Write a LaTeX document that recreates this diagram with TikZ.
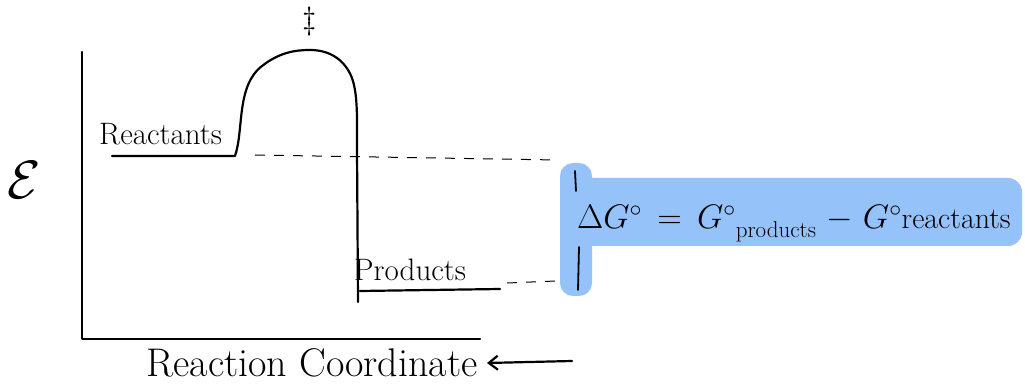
\RequirePackage{fix-cm}
\documentclass[tikz,border=0pt]{standalone}
\usepackage{amsmath}
\usetikzlibrary{positioning, arrows.meta}
\definecolor{hlblue}{RGB}{150,194,250}
\definecolor{inkline}{RGB}{0,0,0}

\begin{document}
\begin{tikzpicture}[
    x=1pt, y=-1pt,
    ink/.style={draw=inkline, line width=2.2pt, line cap=round, line join=round},
    guide/.style={draw=inkline, line width=1pt, dash pattern=on 10pt off 9pt},
    tag/.style={font=\fontsize{31}{33}\selectfont, inner sep=0pt, anchor=base west},
    axistag/.style={font=\fontsize{40}{42}\selectfont, inner sep=0pt, anchor=base west}
]
\useasboundingbox (0,0) rectangle (1025,387);

% ---------- Highlight ----------
\fill[hlblue, rounded corners=13pt] (560,163) rectangle (592,296);
\fill[hlblue, rounded corners=14pt] (576,178) rectangle (1022,246);

% ---------- Axes ----------
\coordinate (ytop) at (82,52);
\coordinate (origin) at (82,339);
\coordinate (xend) at (480,339);
\draw[ink] (ytop) -- (origin) -- (xend);

\node[font=\fontsize{54}{56}\selectfont, inner sep=0pt] (energy) at (24,180) {$\mathcal{E}$};
\node[axistag] (rxcoord) at (146,376) {Reaction Coordinate};
\coordinate (arrowtip) at (487,363);
\coordinate (arrowtail) at (572,361);
\draw[ink, {Straight Barb[length=9pt, width=14pt]}-] (arrowtip) -- (arrowtail);

% ---------- Energy profile ----------
\coordinate (reacL) at (112,156);
\coordinate (reacR) at (235,156);
\coordinate (peak) at (310,50);
\coordinate (drop) at (358,302);
\coordinate (prodL) at (360,291);
\coordinate (prodR) at (500,289);

\draw[ink] (reacL) -- (reacR)
    .. controls (244,130) and (236,86) .. (262,66)
    .. controls (280,52) and (296,50) .. (peak)
    .. controls (330,50) and (345,60) .. (352,78)
    .. controls (358,95) and (357,120) .. (357,150) -- (drop);
\draw[ink] (prodL) -- (prodR);

\node[tag] (reactants) at (99,145) {Reactants};
\node[tag] (products) at (354,281) {Products};
\node[font=\fontsize{32}{34}\selectfont, inner sep=0pt] (ts) at (310,22) {$\ddagger$};

% ---------- Free energy gap ----------
\coordinate (reacdash) at (255,155);
\coordinate (gaptop) at (557,160);
\coordinate (proddash) at (507,283);
\coordinate (gapbot) at (556,281);
\draw[guide] (reacdash) -- (gaptop);
\draw[guide] (proddash) -- (gapbot);

\draw[ink, line width=1.8pt] (575,171) -- (576,191);
\draw[ink, line width=1.8pt] (579,247) -- (578,290);

\node[font=\fontsize{34}{36}\selectfont, inner sep=0pt, anchor=base west] (deltaG) at (577,229)
    {$\Delta G^{\circ}$\hspace{0.45em}$=$\hspace{0.45em}$G^{\circ}$\raisebox{-9pt}{\fontsize{23}{25}\selectfont products}\hspace{0.3em}$-$\hspace{0.3em}$G^{\circ}$\fontsize{30}{32}\selectfont reactants};

\end{tikzpicture}
\end{document}
